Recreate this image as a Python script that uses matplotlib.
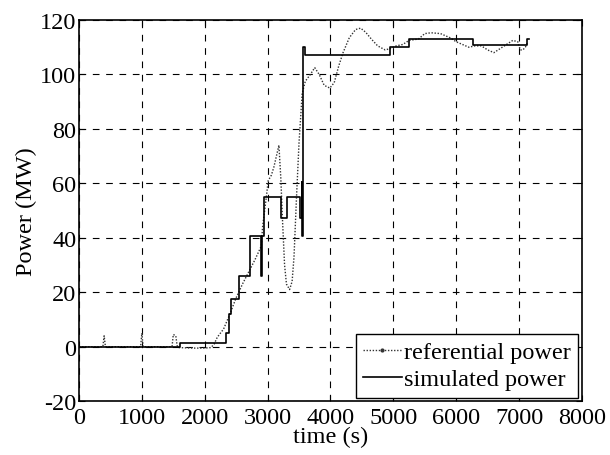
import matplotlib
matplotlib.use('Agg')
import matplotlib.pyplot as plt
from matplotlib.lines import Line2D

# Referential power (dotted)
ref_time = [0, 380, 400, 420, 980, 1000, 1020, 1480, 1500, 1540, 1560, 1580,
            1800, 2000, 2100, 2150, 2200, 2300, 2400, 2500, 2600, 2700, 2800,
            2900, 2920, 2980, 3010, 3060, 3100, 3140, 3180, 3210, 3240, 3270,
            3300, 3350, 3390, 3420, 3460, 3500, 3550, 3600, 3680, 3750, 3820,
            3900, 3990, 4060, 4130, 4200, 4300, 4400, 4480, 4560, 4650, 4750,
            4870, 4950, 5050, 5150, 5250, 5400, 5500, 5600, 5750, 5900, 6000,
            6100, 6200, 6300, 6400, 6500, 6600, 6700, 6800, 6900, 6980, 7020,
            7060, 7100, 7140]
ref_power = [0, 0, 4, 0, 0, 5, 0, 0, 4.5, 4, 0.5, -0.3,
             -0.5, -0.5, -0.3, 1, 3.5, 6.5, 12, 18, 23, 27.5, 32,
             37, 44, 55, 61, 63, 66, 70, 74, 62, 45, 30,
             23, 21, 24, 33, 55, 75, 93, 97.5, 100, 102.5, 100,
             96, 95, 97, 103, 108, 113.5, 116.5, 117, 115.5, 113, 110.5,
             109, 109.5, 110.5, 111, 112.5, 113, 115, 115.3, 115, 113.5, 112,
             111, 110, 110.5, 110.5, 109, 108, 109.5, 111, 112.5, 112, 109,
             109, 110, 112]

# Simulated power (step changes, value holds until next time)
sim_time = [0, 1600, 2340, 2380, 2420, 2540, 2725, 2900, 2910, 2945, 3212,
            3312, 3522, 3545, 3555, 3570, 3600, 4950, 5250, 6260, 7120, 7150]
sim_power = [0, 1.2, 5, 12, 17.5, 25.8, 40.8, 26, 40.8, 54.9, 47.3,
             54.9, 47.3, 60.5, 40.5, 110, 107.2, 110, 113, 110.8, 113, 113]

plt.rcParams['font.family'] = ['Liberation Serif', 'DejaVu Serif']
plt.rcParams['font.size'] = 17.5
plt.rcParams['axes.unicode_minus'] = False

fig = plt.figure(figsize=(6.1, 4.56), dpi=100)
ax = fig.add_axes([0.1295, 0.118, 0.8245, 0.836])

ax.plot(ref_time, ref_power, color='#333333', linestyle=(0, (1, 1.2)),
        linewidth=1.0)
ax.plot(sim_time, sim_power, color='black', linewidth=1.2,
        drawstyle='steps-post')

ax.set_xlim(0, 8000)
ax.set_ylim(-20, 120)
ax.set_xticks(range(0, 8001, 1000))
ax.set_yticks(range(-20, 121, 20))
ax.grid(True, color='black', linestyle=(0, (6, 6)), linewidth=0.8)
ax.tick_params(axis='both', direction='in', length=4, top=True, right=True)
ax.tick_params(axis='x', pad=4)
ax.tick_params(axis='y', pad=2)
for s in ax.spines.values():
    s.set_linewidth(1.2)

ax.set_xlabel("time (s)", labelpad=-1)
ax.set_ylabel("Power (MW)", labelpad=2)

handles = [
    Line2D([], [], color='#333333', linestyle=(0, (1, 1.2)), linewidth=1.0,
           marker='.', markersize=4),
    Line2D([], [], color='black', linewidth=1.2),
]
leg = ax.legend(handles, ["referential power", "simulated power"],
                loc='lower right', fancybox=False, edgecolor='black',
                framealpha=1, handlelength=1.6, handletextpad=0.1,
                borderpad=0.3, borderaxespad=0.15, labelspacing=0.2)
leg.get_frame().set_linewidth(1.0)

fig.savefig('out.png', dpi=100)
